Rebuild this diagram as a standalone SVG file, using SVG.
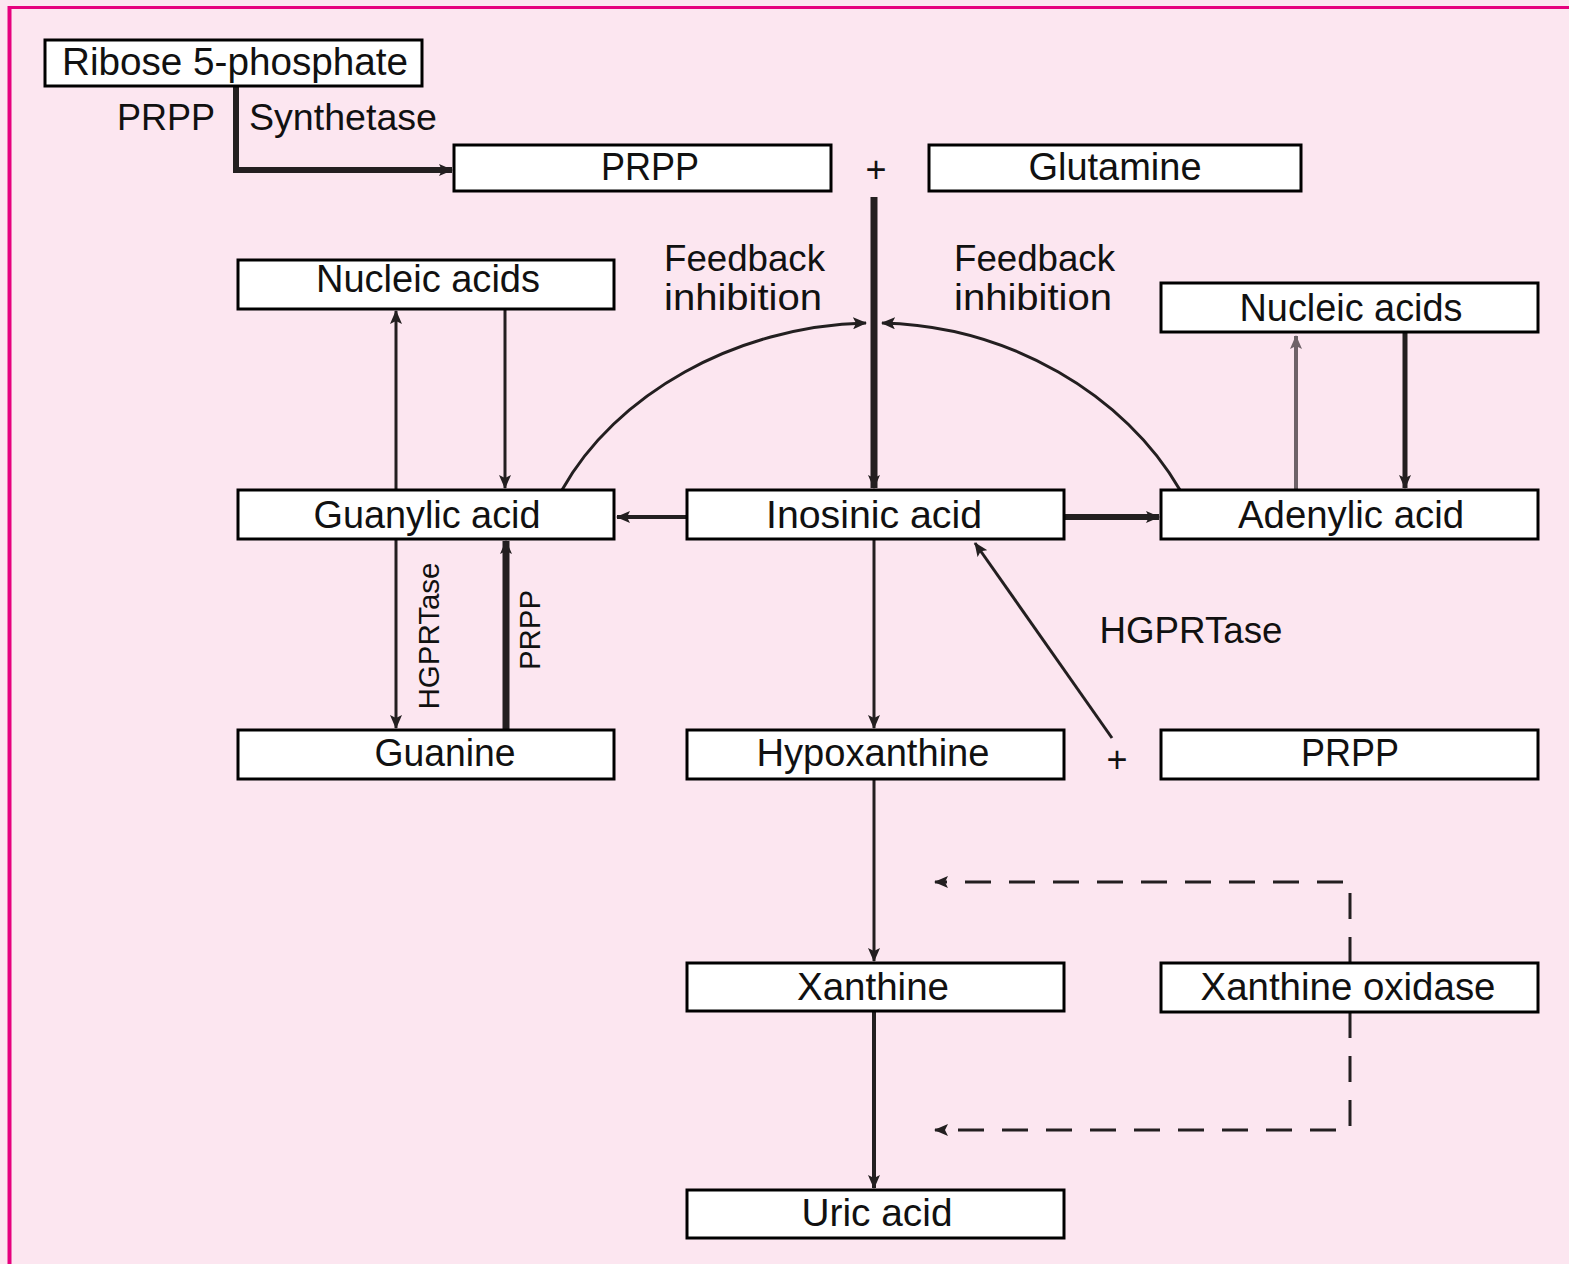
<svg xmlns="http://www.w3.org/2000/svg" width="1569" height="1264" viewBox="0 0 1569 1264">
<style>
.bg{fill:#fce6f0}
.frame{stroke:#e6007e;fill:none}
.box{fill:#ffffff;stroke:#000000;stroke-width:3}
.t{font-family:"Liberation Sans",Arial,sans-serif;font-size:38px;fill:#111;text-anchor:middle}
.lbl{font-family:"Liberation Sans",Arial,sans-serif;font-size:36px;fill:#111}
.rot{font-family:"Liberation Sans",Arial,sans-serif;font-size:30px;fill:#111;text-anchor:middle}
.c{fill:none;stroke:#231f20}
.dash{fill:none;stroke:#231f20;stroke-width:3;stroke-dasharray:26 18}
</style>
<defs>
<marker id="ah" markerUnits="userSpaceOnUse" markerWidth="14" markerHeight="12" viewBox="0 0 14 12" refX="13" refY="6" orient="auto">
<path d="M0,0 L14,6 L0,12 L3,6 Z" fill="#231f20"/>
</marker>
<marker id="ahg" markerUnits="userSpaceOnUse" markerWidth="14" markerHeight="12" viewBox="0 0 14 12" refX="13" refY="6" orient="auto">
<path d="M0,0 L14,6 L0,12 L3,6 Z" fill="#6e6268"/>
</marker>
</defs>
<rect class="bg" x="0" y="0" width="1569" height="1264"/>
<line class="frame" x1="9.5" y1="6" x2="9.5" y2="1264" stroke-width="4"/>
<line class="frame" x1="8" y1="7.5" x2="1569" y2="7.5" stroke-width="3"/>

<g id="connectors">
<path class="c" d="M236,86 V170 H452" stroke-width="6" marker-end="url(#ah)"/>
<path class="c" d="M874,197 V488" stroke-width="7" marker-end="url(#ah)"/>
<path class="c" d="M562,490 C615,395 735,326 866,323" stroke-width="3" marker-end="url(#ah)"/>
<path class="c" d="M1180,490 C1125,395 1010,326 882,323" stroke-width="3" marker-end="url(#ah)"/>
<path class="c" d="M396,490 V311" stroke-width="3" marker-end="url(#ah)"/>
<path class="c" d="M505,309 V488" stroke-width="3" marker-end="url(#ah)"/>
<path class="c" d="M687,517 H617" stroke-width="4" marker-end="url(#ah)"/>
<path class="c" d="M1064,517 H1159" stroke-width="6" marker-end="url(#ah)"/>
<path d="M1296,490 V336" fill="none" stroke="#6e6268" stroke-width="4" marker-end="url(#ahg)"/>
<path class="c" d="M1405,332 V488" stroke-width="5" marker-end="url(#ah)"/>
<path class="c" d="M396,539 V728" stroke-width="3" marker-end="url(#ah)"/>
<path class="c" d="M506,730 V541" stroke-width="7" marker-end="url(#ah)"/>
<path class="c" d="M874,539 V728" stroke-width="3" marker-end="url(#ah)"/>
<path class="c" d="M1112,738 L975,543" stroke-width="3" marker-end="url(#ah)"/>
<path class="c" d="M874,779 V961" stroke-width="3" marker-end="url(#ah)"/>
<path class="c" d="M874,1011 V1188" stroke-width="4" marker-end="url(#ah)"/>
<path class="dash" d="M1350,963 V882 H935" marker-end="url(#ah)"/>
<path class="dash" d="M1350,1012 V1130 H935" marker-end="url(#ah)"/>
</g>

<g id="ribose">
<rect class="box" x="45" y="40" width="377" height="46"/>
<text class="t" x="235" y="75" textLength="346" lengthAdjust="spacingAndGlyphs">Ribose 5-phosphate</text>
</g>
<g id="prpp-synthetase-label">
<text class="lbl" x="166" y="130" text-anchor="middle" textLength="98" lengthAdjust="spacingAndGlyphs">PRPP</text>
<text class="lbl" x="343" y="130" text-anchor="middle" textLength="188" lengthAdjust="spacingAndGlyphs">Synthetase</text>
</g>
<g id="prpp-top">
<rect class="box" x="454" y="145" width="377" height="46"/>
<text class="t" x="650" y="180" textLength="98" lengthAdjust="spacingAndGlyphs">PRPP</text>
</g>
<g id="plus-top"><text class="lbl" x="876" y="182" text-anchor="middle">+</text></g>
<g id="glutamine">
<rect class="box" x="929" y="145" width="372" height="46"/>
<text class="t" x="1115" y="180" textLength="173" lengthAdjust="spacingAndGlyphs">Glutamine</text>
</g>
<g id="feedback-left">
<text class="lbl" x="664" y="271" textLength="161" lengthAdjust="spacingAndGlyphs">Feedback</text>
<text class="lbl" x="664" y="310" textLength="158" lengthAdjust="spacingAndGlyphs">inhibition</text>
</g>
<g id="feedback-right">
<text class="lbl" x="954" y="271" textLength="161" lengthAdjust="spacingAndGlyphs">Feedback</text>
<text class="lbl" x="954" y="310" textLength="158" lengthAdjust="spacingAndGlyphs">inhibition</text>
</g>
<g id="nucleic-left">
<rect class="box" x="238" y="260" width="376" height="49"/>
<text class="t" x="428" y="292" textLength="224" lengthAdjust="spacingAndGlyphs">Nucleic acids</text>
</g>
<g id="nucleic-right">
<rect class="box" x="1161" y="283" width="377" height="49"/>
<text class="t" x="1351" y="321" textLength="223" lengthAdjust="spacingAndGlyphs">Nucleic acids</text>
</g>
<g id="guanylic">
<rect class="box" x="238" y="490" width="376" height="49"/>
<text class="t" x="427" y="528" textLength="227" lengthAdjust="spacingAndGlyphs">Guanylic acid</text>
</g>
<g id="inosinic">
<rect class="box" x="687" y="490" width="377" height="49"/>
<text class="t" x="874" y="528" textLength="216" lengthAdjust="spacingAndGlyphs">Inosinic acid</text>
</g>
<g id="adenylic">
<rect class="box" x="1161" y="490" width="377" height="49"/>
<text class="t" x="1351" y="528" textLength="226" lengthAdjust="spacingAndGlyphs">Adenylic acid</text>
</g>
<g id="hgprtase-left">
<text class="rot" transform="translate(428,636) rotate(-90)" x="0" y="11" textLength="147" lengthAdjust="spacingAndGlyphs">HGPRTase</text>
</g>
<g id="prpp-left-rot">
<text class="rot" transform="translate(529,630) rotate(-90)" x="0" y="11" textLength="80" lengthAdjust="spacingAndGlyphs">PRPP</text>
</g>
<g id="hgprtase-right">
<text class="lbl" x="1191" y="643" text-anchor="middle" textLength="183" lengthAdjust="spacingAndGlyphs">HGPRTase</text>
</g>
<g id="guanine">
<rect class="box" x="238" y="730" width="376" height="49"/>
<text class="t" x="445" y="766" textLength="141" lengthAdjust="spacingAndGlyphs">Guanine</text>
</g>
<g id="hypoxanthine">
<rect class="box" x="687" y="730" width="377" height="49"/>
<text class="t" x="873" y="766" textLength="233" lengthAdjust="spacingAndGlyphs">Hypoxanthine</text>
</g>
<g id="plus-right"><text class="lbl" x="1117" y="772" text-anchor="middle">+</text></g>
<g id="prpp-right">
<rect class="box" x="1161" y="730" width="377" height="49"/>
<text class="t" x="1350" y="766" textLength="98" lengthAdjust="spacingAndGlyphs">PRPP</text>
</g>
<g id="xanthine">
<rect class="box" x="687" y="963" width="377" height="48"/>
<text class="t" x="873" y="1000" textLength="152" lengthAdjust="spacingAndGlyphs">Xanthine</text>
</g>
<g id="xanthine-oxidase">
<rect class="box" x="1161" y="963" width="377" height="49"/>
<text class="t" x="1348" y="1000" textLength="295" lengthAdjust="spacingAndGlyphs">Xanthine oxidase</text>
</g>
<g id="uric-acid">
<rect class="box" x="687" y="1190" width="377" height="48"/>
<text class="t" x="877" y="1226" textLength="151" lengthAdjust="spacingAndGlyphs">Uric acid</text>
</g>
</svg>
